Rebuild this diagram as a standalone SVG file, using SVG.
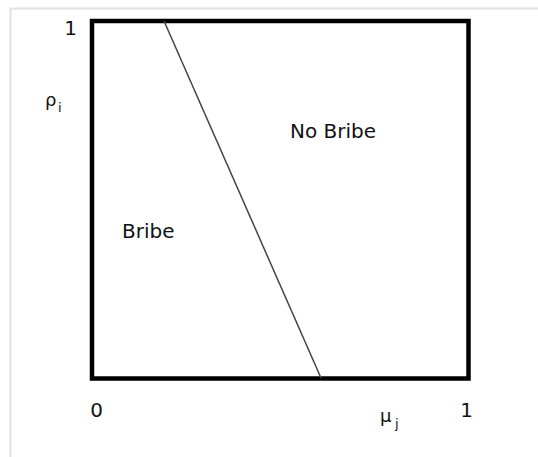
<svg xmlns="http://www.w3.org/2000/svg" width="538" height="457" viewBox="0 0 538 457">
<style>
.t{font-family:"DejaVu Sans",sans-serif;fill:#111;}
.big{font-size:20px;}
.sym{font-size:18px;}
.sub{font-size:13px;}
</style>
<rect x="0" y="0" width="538" height="457" fill="#fff"/>
<g id="frame">
<path d="M10.5 457 V8.5 H538" fill="none" stroke="#e2e2e2" stroke-width="2"/>
</g>
<g id="box">
<rect x="92" y="21" width="376.5" height="357.5" fill="none" stroke="#000" stroke-width="4.5"/>
</g>
<g id="connectors">
<line x1="164" y1="21" x2="321" y2="378" stroke="#444" stroke-width="1.5"/>
</g>
<g id="region-nobribe"><text class="t big" x="290" y="137.5">No Bribe</text></g>
<g id="region-bribe"><text class="t big" x="122" y="237.5">Bribe</text></g>
<g id="labels">
<text class="t big" x="77" y="35" text-anchor="end">1</text>
<text class="t sym" x="45" y="106">ρ</text>
<text class="t sub" x="58" y="112">i</text>
<text class="t big" x="96.5" y="417" text-anchor="middle">0</text>
<text class="t big" x="466.5" y="417" text-anchor="middle">1</text>
<text class="t sym" x="380" y="422">μ</text>
<text class="t sub" x="395" y="428">j</text>
</g>
</svg>
